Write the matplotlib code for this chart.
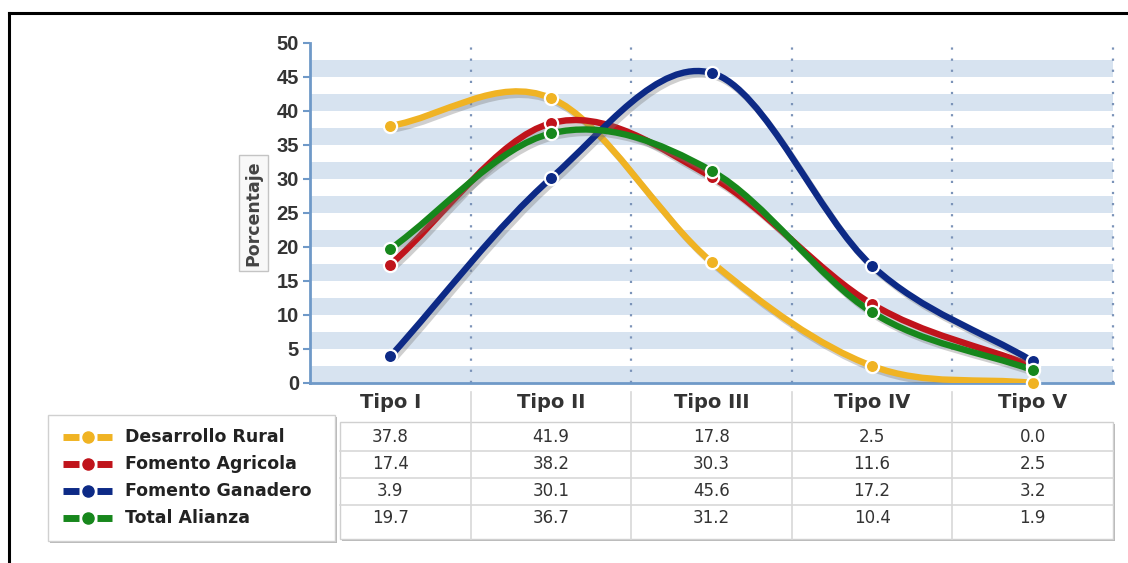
import matplotlib
matplotlib.use("Agg")
import matplotlib.pyplot as plt
import matplotlib.patheffects as pe
from matplotlib.path import Path
from matplotlib.patches import PathPatch, Rectangle
from matplotlib.transforms import blended_transform_factory

plt.rcParams['font.family'] = ['DejaVu Sans']

categories = ['Tipo I', 'Tipo II', 'Tipo III', 'Tipo IV', 'Tipo V']
series_names = ['Desarrollo Rural', 'Fomento Agricola', 'Fomento Ganadero', 'Total Alianza']
desarrollo_rural = [37.8, 41.9, 17.8, 2.5, 0.0]
fomento_agricola = [17.4, 38.2, 30.3, 11.6, 2.5]
fomento_ganadero = [3.9, 30.1, 45.6, 17.2, 3.2]
total_alianza = [19.7, 36.7, 31.2, 10.4, 1.9]
series_values = [desarrollo_rural, fomento_agricola, fomento_ganadero, total_alianza]
colors = ['#f0b323', '#c0141b', '#0d2a86', '#17871c']

W, H = 1128, 563


def smooth_path(xs, ys):
    # catmull-rom curve drawn as cubic bezier segments
    n = len(xs)
    verts = [(xs[0], ys[0])]
    codes = [Path.MOVETO]
    def tangent(i):
        if i == 0:
            return xs[1] - xs[0], ys[1] - ys[0]
        if i == n - 1:
            return xs[-1] - xs[-2], ys[-1] - ys[-2]
        return (xs[i + 1] - xs[i - 1]) / 2, (ys[i + 1] - ys[i - 1]) / 2
    for i in range(n - 1):
        t0 = tangent(i)
        t1 = tangent(i + 1)
        verts += [(xs[i] + t0[0] / 3, ys[i] + t0[1] / 3),
                  (xs[i + 1] - t1[0] / 3, ys[i + 1] - t1[1] / 3),
                  (xs[i + 1], ys[i + 1])]
        codes += [Path.CURVE4] * 3
    return Path(verts, codes)


fig = plt.figure(figsize=(W / 100, H / 100), dpi=100)

ov = fig.add_axes([0, 0, 1, 1], zorder=0)
ov.set_xlim(0, W)
ov.set_ylim(H, 0)
ov.axis('off')

ax = fig.add_axes([310 / W, 1 - 383 / H, (1113 - 310) / W, (383 - 43) / H], zorder=1)
ax.set_xlim(-0.5, 4.5)
ax.set_ylim(0, 50)

for k in range(10):
    ax.axhspan(5 * k, 5 * k + 2.5, color='#d7e3f0', lw=0, zorder=0)
ax.vlines([i + 0.5 for i in range(5)], 0, 50, colors='#7b93b8', lw=1.6,
          linestyles=(0, (1, 4)), zorder=1, clip_on=False)

xs = list(range(len(categories)))
for vals, c in zip(series_values, colors):
    patch = PathPatch(smooth_path(xs, vals), facecolor='none', edgecolor=c, lw=4.6,
                      capstyle='round', joinstyle='round', zorder=3)
    patch.set_path_effects([pe.SimpleLineShadow(offset=(2, -2.5), shadow_color='#777777', alpha=0.35),
                            pe.Normal()])
    ax.add_patch(patch)
for vals, c in zip(series_values, colors):
    ax.plot(xs, vals, 'o', color=c, ms=9.5, mec='white', mew=1.6, zorder=4, clip_on=False)

ax.set_yticks(range(0, 51, 5))
ax.set_xticks(xs, categories)
ax.tick_params(axis='y', direction='out', length=5, width=1.5, color='#6f99c8', pad=3,
               labelsize=14.5, labelcolor='#333333')
ax.tick_params(axis='x', length=0, pad=7, labelsize=14, labelcolor='#333333')
for lab in ax.get_yticklabels():
    lab.set_fontweight('bold')
    lab.set_family('Liberation Sans')
for lab in ax.get_xticklabels():
    lab.set_fontweight('bold')
for s in ['top', 'right']:
    ax.spines[s].set_visible(False)
for s in ['left', 'bottom']:
    ax.spines[s].set_color('#6f99c8')
    ax.spines[s].set_linewidth(2)
ax.set_ylabel('Porcentaje', fontsize=12.5, fontweight='bold', color='#444444', labelpad=10,
              bbox=dict(boxstyle='square,pad=0.3', fc='#f8f8f8', ec='#c4c4c4', lw=1))

# figure frame
ov.plot([9, W], [13, 13], color='black', lw=2.2)
ov.plot([9, 9], [13, H], color='black', lw=2.2)

# legend box
ov.add_patch(Rectangle((50, 417), 287, 126, fc='#b8b8b8', ec='none'))
ov.add_patch(Rectangle((48, 415), 287, 126, fc='white', ec='#d0d0d0', lw=1))
row_y = [437, 464, 491, 518]
for name, c, y in zip(series_names, colors, row_y):
    ov.plot([63, 79], [y, y], color=c, lw=5, solid_capstyle='butt')
    ov.plot([97, 112], [y, y], color=c, lw=5, solid_capstyle='butt')
    ov.plot([88], [y], 'o', color=c, ms=8)
    ov.text(125, y, name, fontsize=12.5, fontweight='bold', color='#222222', va='center')

# values table
bt = blended_transform_factory(ax.transData, ov.transData)
ov.add_patch(Rectangle((342, 424), 773, 117, fc='#b8b8b8', ec='none'))
ov.add_patch(Rectangle((340, 422), 773, 117, fc='white', ec='#d0d0d0', lw=1))
for y in row_y[1:]:
    ov.plot([340, 1113], [y - 13.5, y - 13.5], color='#d8d8d8', lw=1.2)
for i in range(4):
    ov.plot([i + 0.5, i + 0.5], [392, 539], color='#d8d8d8', lw=1.2, transform=bt)
for vals, y in zip(series_values, row_y):
    for i, v in enumerate(vals):
        ov.text(i, y, f'{v:.1f}', transform=bt, ha='center', va='center',
                fontsize=12, color='#333333')

fig.savefig('out.png', dpi=100)
